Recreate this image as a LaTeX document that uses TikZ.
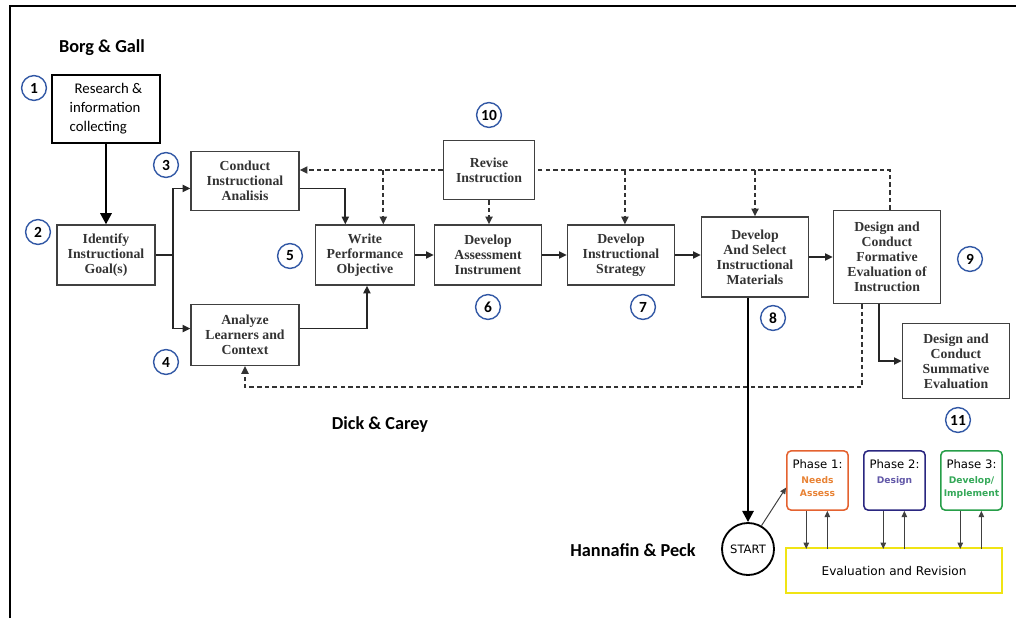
\documentclass[tikz,border=0pt]{standalone}
\usepackage{fontspec}
\setmainfont{Liberation Serif}
\setsansfont{Carlito}
\newfontfamily\phasefont{DejaVu Sans}
\usetikzlibrary{arrows.meta,positioning,calc}
\definecolor{numblue}{RGB}{50,88,165}
\definecolor{phaseorange}{RGB}{228,98,48}
\definecolor{phaseblue}{RGB}{42,38,128}
\definecolor{phasegreen}{RGB}{38,158,72}
\definecolor{evalyellow}{RGB}{240,228,20}
\definecolor{txtorange}{RGB}{232,130,52}
\definecolor{txtblue}{RGB}{98,88,168}
\definecolor{txtgreen}{RGB}{52,168,88}
\newcommand\phsub[2]{\textcolor{#1}{\bfseries\fontsize{6.5}{9.2}\selectfont #2}}

\begin{document}
\begin{tikzpicture}[>={Triangle[length=5.5pt,width=5pt]},x=0.025cm,y=-0.025cm,
 stepbox/.style={draw=black!75,line width=0.9pt,align=center,inner sep=2pt,text=black!80,font=\bfseries\fontsize{9.8}{10.7}\selectfont},
 num/.style={draw=numblue,circle,line width=1pt,minimum size=0.62cm,inner sep=0pt,font=\sffamily\bfseries\fontsize{11}{12}\selectfont},
 title/.style={font=\sffamily\bfseries\fontsize{13}{15}\selectfont},
 phase/.style={draw,rounded corners=3pt,line width=1.1pt,minimum width=1.53cm,minimum height=1.48cm},
 phlab/.style={anchor=north,yshift=-3pt,align=center,font=\phasefont\fontsize{8.3}{11}\selectfont},
 flow/.style={->,line width=1.3pt,black!85},
 back/.style={->,line width=1.3pt,black!80,dash pattern=on 3.2pt off 2.2pt},
 backline/.style={line width=1.3pt,black!80,dash pattern=on 3.2pt off 2.2pt},
 evarrow/.style={->,line width=0.7pt,black!75,>={Triangle[length=4.5pt,width=4pt]}},
 bigarrow/.style={->,line width=1.7pt,>={Triangle[length=8pt,width=8pt]}}]
\useasboundingbox (0,0) rectangle (1016,618);
\draw[line width=1.2pt] (10,618) -- (10,6) -- (1016,6);
\node[title] (borg) at (102,48) {Borg \& Gall};
\node[title] (dick) at (380,425) {Dick \& Carey};
\node[title] (hannafin) at (633,550) {Hannafin \& Peck};
\node[draw,line width=1.3pt,minimum width=2.7cm,minimum height=1.7cm,align=left,font=\sffamily\fontsize{10.5}{13.5}\selectfont] (research) at (106,109) {\,\,Research \&\\information\\collecting};
\node[stepbox,minimum width=2.45cm,minimum height=1.5cm] (goal) at (106,255) {Identify\\Instructional\\Goal(s)};
\node[stepbox,minimum width=2.7cm,minimum height=1.48cm] (conduct) at (245,181) {Conduct\\Instructional\\Analisis};
\node[stepbox,minimum width=2.7cm,minimum height=1.52cm] (analyze) at (245,335) {Analyze\\Learners and\\Context};
\node[stepbox,minimum width=2.48cm,minimum height=1.5cm] (write) at (365,255) {Write\\Performance\\Objective};
\node[stepbox,minimum width=2.68cm,minimum height=1.5cm] (assess) at (488,255) {Develop\\Assessment\\Instrument};
\node[stepbox,minimum width=2.68cm,minimum height=1.5cm] (strategy) at (621,255) {Develop\\Instructional\\Strategy};
\node[stepbox,minimum width=2.68cm,minimum height=2.0cm] (select) at (755,257) {Develop\\And Select\\Instructional\\Materials};
\node[stepbox,minimum width=2.68cm,minimum height=2.33cm] (formative) at (887,257) {Design and\\Conduct\\Formative\\Evaluation of\\Instruction};
\node[stepbox,minimum width=2.68cm,minimum height=1.88cm] (summative) at (956,361) {Design and\\Conduct\\Summative\\Evaluation};
\node[stepbox,minimum width=2.28cm,minimum height=1.48cm] (revise) at (489,170) {Revise\\Instruction};
\node[num] (n1) at (34,88) {1};
\node[num] (n2) at (38,232) {2};
\node[num] (n3) at (166,165) {3};
\node[num] (n4) at (166,362) {4};
\node[num] (n5) at (290,256) {5};
\node[num] (n6) at (488,307) {6};
\node[num] (n7) at (643,307) {7};
\node[num] (n8) at (773,318) {8};
\node[num] (n9) at (970,259) {9};
\node[num] (n10) at (489,115) {10};
\node[num] (n11) at (958,420) {11};
\node[draw,circle,line width=1.3pt,minimum size=1.3cm,inner sep=0pt,font=\phasefont\fontsize{8.2}{9}\selectfont] (start) at (748,549) {START};
\node[phase,draw=phaseorange,label={[phlab]north:{Phase 1:\\\phsub{txtorange}{Needs}\\[-2pt]\phsub{txtorange}{Assess}}}] (ph1) at (817.5,480.5) {};
\node[phase,draw=phaseblue,label={[phlab]north:{Phase 2:\\\phsub{txtblue}{Design}}}] (ph2) at (894.5,480.5) {};
\node[phase,draw=phasegreen,label={[phlab]north:{Phase 3:\\\phsub{txtgreen}{Develop/}\\[-2pt]\phsub{txtgreen}{Implement}}}] (ph3) at (971.5,480.5) {};
\node[draw=evalyellow,line width=1.5pt,minimum width=5.4cm,minimum height=1.13cm,font=\phasefont\fontsize{8.6}{10}\selectfont] (eval) at (894,570.5) {Evaluation and Revision};
\coordinate (wtop) at ([xshift=13pt]write.north);
\coordinate (wleft) at ([xshift=-14pt]write.north);
\coordinate (ctop) at ([xshift=2.1pt]formative.north);
\coordinate (cdash) at ([xshift=-17.8pt]formative.south);
\coordinate (csolid) at ([xshift=-5.7pt]formative.south);
\coordinate (stop) at ([xshift=2.8pt]strategy.north);
\draw[bigarrow] (research) -- (goal);
\draw[flow] (goal.east) -- ++(17,0) coordinate (split) |- ([yshift=-5.3pt]conduct.west);
\draw[flow] (split) |- ([yshift=4.6pt]analyze.west);
\draw[flow] ([yshift=-5.3pt]conduct.east) -| (wleft);
\draw[flow] ([yshift=4.6pt]analyze.east) -| ([xshift=1.4pt]write.south);
\draw[flow] (write) -- (assess);
\draw[flow] (assess) -- (strategy);
\draw[flow] (strategy.east) -- (strategy.east -| select.west);
\draw[flow] (select.east) -- (formative.west);
\draw[flow] (csolid) |- (summative.west);
\draw[back] (cdash) -- ++(0,83) -| (analyze.south);
\draw[backline] (ctop) |- (revise.east);
\draw[back] (revise.west) -- (revise.west -| conduct.east);
\draw[back] (wtop |- revise.west) -- (wtop);
\draw[back] (revise.south) -- (revise.south |- assess.north);
\draw[back] (stop |- revise.east) -- (stop);
\draw[back] (select.north |- revise.east) -- (select.north);
\draw[bigarrow] (start.north |- select.south) -- (start.north);
\draw[evarrow] (start.60) -- ([yshift=-5pt]ph1.west);
\foreach \p in {ph1,ph2,ph3} {
 \draw[evarrow] ([xshift=-8pt]\p.south) -- ++(0,38);
 \draw[evarrow] ([xshift=7pt]\p.south) ++(0,38) -- ++(0,-38);
}
\end{tikzpicture}
\end{document}
